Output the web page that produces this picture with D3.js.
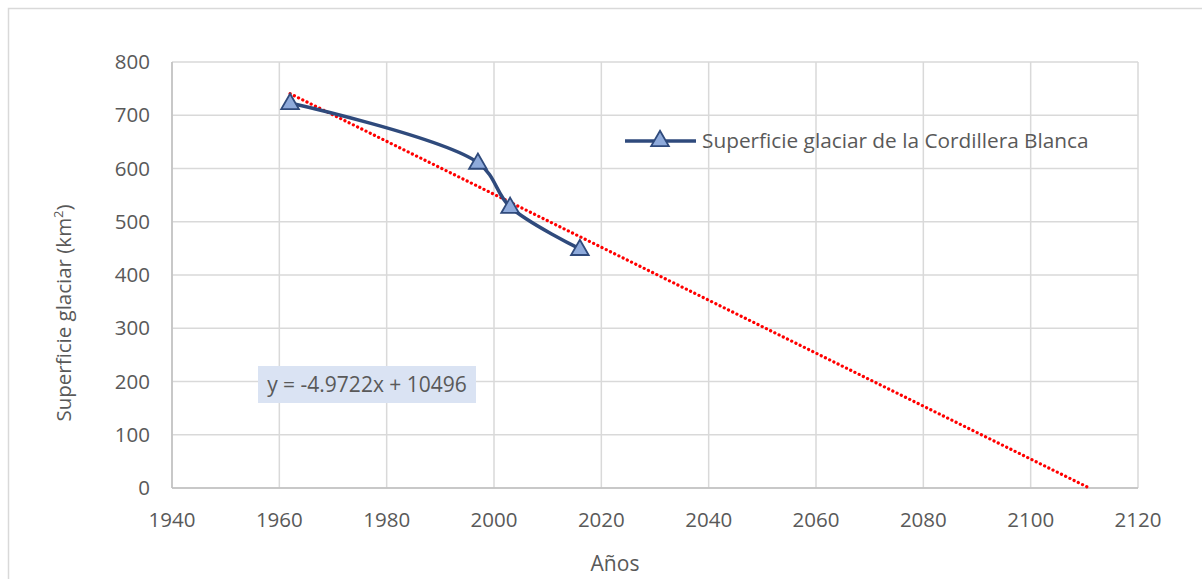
<!DOCTYPE html>
<html><head><meta charset="utf-8">
<script src="https://cdn.jsdelivr.net/npm/d3@7"></script>
<style>body{margin:0;background:#fff}svg{display:block}text{font-family:"Open Sans",sans-serif;fill:#595959}</style>
</head><body><svg id="c" width="1202" height="579"></svg>
<script>
const years = [1962, 1997, 2003, 2016];
const area = [723, 611, 528, 449];
const xTicks = [1940,1960,1980,2000,2020,2040,2060,2080,2100,2120];
const yTicks = [0,100,200,300,400,500,600,700,800];
const trendSlope = -4.9722, trendIntercept = 10496;
const seriesName = "Superficie glaciar de la Cordillera Blanca";
const eqLabel = "y = -4.9722x + 10496";

const svg = d3.select("#c");
svg.append("rect").attr("x",8.5).attr("y",8.5).attr("width",1250).attr("height",650)
  .attr("fill","#fff").attr("stroke","#d9d9d9").attr("stroke-width",1.5);

const x = d3.scaleLinear().domain([1940,2120]).range([172,1138]);
const y = d3.scaleLinear().domain([0,800]).range([488,62]);

const g = svg.append("g");
g.selectAll(".vg").data(xTicks).join("line")
  .attr("x1",d=>x(d)).attr("x2",d=>x(d)).attr("y1",y(800)).attr("y2",y(0))
  .attr("stroke","#d9d9d9").attr("stroke-width",1.5);
g.selectAll(".hg").data(yTicks).join("line")
  .attr("x1",x(1940)).attr("x2",x(2120)).attr("y1",d=>y(d)).attr("y2",d=>y(d))
  .attr("stroke","#d9d9d9").attr("stroke-width",1.5);
g.append("line").attr("x1",x(1940)).attr("x2",x(2120)).attr("y1",y(0)).attr("y2",y(0))
  .attr("stroke","#bfbfbf").attr("stroke-width",1.5);
g.append("line").attr("x1",x(1940)).attr("x2",x(1940)).attr("y1",y(0)).attr("y2",y(800))
  .attr("stroke","#bfbfbf").attr("stroke-width",1.5);

g.selectAll(".yt").data(yTicks).join("text")
  .attr("x",150).attr("y",d=>y(d)).attr("dy","0.35em").attr("text-anchor","end")
  .attr("font-size",20.5).text(d=>d);
g.selectAll(".xt").data(xTicks).join("text")
  .attr("x",d=>x(d)).attr("y",527).attr("text-anchor","middle")
  .attr("font-size",20.5).text(d=>d);

g.append("text").attr("x",615).attr("y",571).attr("text-anchor","middle").attr("font-size",21).text("Años");
const yt = g.append("text").attr("transform","translate(71,313) rotate(-90)").attr("text-anchor","middle").attr("font-size",20.5);
yt.append("tspan").text("Superficie glaciar (km");
yt.append("tspan").attr("font-size",13).attr("dy",-8).text("2");
yt.append("tspan").attr("dy",8).text(")");

// trendline
const xEnd = -trendIntercept/trendSlope;
const trend = [years[0], xEnd].map(v=>[v, trendSlope*v+trendIntercept]);
g.append("path").attr("d", d3.line().x(d=>x(d[0])).y(d=>y(d[1]))(trend))
  .attr("fill","none").attr("stroke","#ff0000").attr("stroke-width",3.2)
  .attr("stroke-dasharray","0.1 4.6").attr("stroke-linecap","round");

// series
const pts = years.map((v,i)=>[v, area[i]]);
g.append("path").attr("d", d3.line().x(d=>x(d[0])).y(d=>y(d[1])).curve(d3.curveCatmullRom.alpha(0.5))(pts))
  .attr("fill","none").attr("stroke","#2f4a7c").attr("stroke-width",3.5);
const tri = d3.symbol().type(d3.symbolTriangle).size(135);
g.selectAll(".m").data(pts).join("path")
  .attr("transform",d=>`translate(${x(d[0])},${y(d[1])+1})`).attr("d",tri)
  .attr("fill","#8eaadb").attr("stroke","#2f4a7c").attr("stroke-width",1.8);

// legend
g.append("line").attr("x1",625).attr("x2",696).attr("y1",141).attr("y2",141)
  .attr("stroke","#2f4a7c").attr("stroke-width",3.5);
g.append("path").attr("transform","translate(660,141)").attr("d",tri)
  .attr("fill","#8eaadb").attr("stroke","#2f4a7c").attr("stroke-width",1.8);
g.append("text").attr("x",702).attr("y",141).attr("dy","0.35em").attr("font-size",20.8).text(seriesName);

// equation label
g.append("rect").attr("x",258).attr("y",366).attr("width",218).attr("height",37).attr("fill","#dae3f3");
g.append("text").attr("x",367).attr("y",385).attr("dy","0.35em").attr("text-anchor","middle").attr("font-size",21).text(eqLabel);
</script></body></html>
